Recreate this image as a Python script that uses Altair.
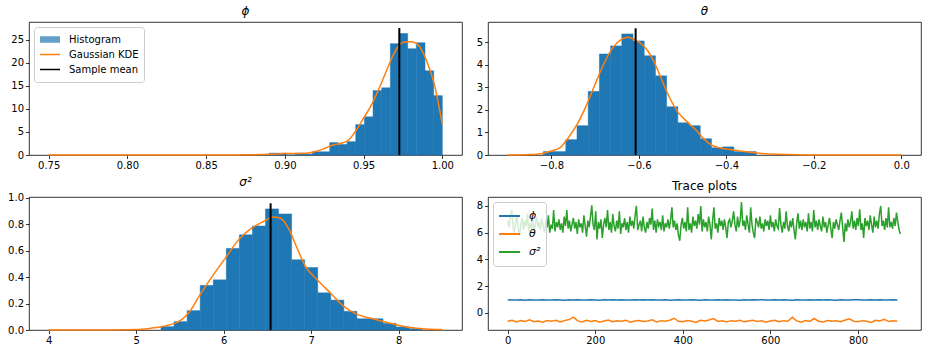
import altair as alt
import pandas as pd

# ---------------- phi ----------------
phi_bin_start = 0.89
phi_bin_width = 0.0055
phi_hist = [0.4, 0.4, 0.0, 0.4, 0.2, 0.7, 0.7, 2.7, 2.3, 2.9,
            6.6, 8.3, 14.0, 14.6, 24.2, 26.4, 23.1, 24.4, 18.3, 12.9]
phi_kde_x = [0.75, 0.80, 0.85, 0.87, 0.88, 0.89, 0.90, 0.91, 0.915, 0.92, 0.925,
             0.93, 0.935, 0.94, 0.945, 0.95, 0.955, 0.96, 0.965, 0.97, 0.975,
             0.98, 0.985, 0.99, 0.995, 1.0]
phi_kde_y = [0.0, 0.0, 0.0, 0.02, 0.06, 0.15, 0.3, 0.35, 0.45, 0.8, 1.4,
             2.1, 2.5, 3.1, 5.2, 8.0, 10.9, 14.6, 18.7, 22.5, 24.5,
             24.6, 23.8, 20.5, 15.3, 6.7]
phi_mean = 0.9727
phi_mean_top = 27.6

# ---------------- theta ----------------
theta_bin_start = -0.8184
theta_bin_width = 0.02562
theta_hist = [0.15, 0.15, 0.68, 1.30, 2.82, 4.48, 4.84, 5.37, 5.06, 4.40,
              3.51, 2.14, 1.43, 1.30, 0.72, 0.32, 0.36, 0.15, 0.15]
theta_kde_x = [-0.90, -0.85, -0.82, -0.80, -0.78, -0.76, -0.74, -0.72, -0.70, -0.68,
               -0.66, -0.64, -0.625, -0.61, -0.59, -0.57, -0.55, -0.53, -0.51, -0.49,
               -0.47, -0.45, -0.43, -0.41, -0.39, -0.37, -0.35, -0.32, -0.28, -0.2, 0.0]
theta_kde_y = [0.0, 0.02, 0.07, 0.18, 0.33, 0.80, 1.40, 2.20, 3.15, 4.05,
               4.75, 5.13, 5.22, 5.12, 4.86, 4.32, 3.45, 2.55, 1.88, 1.48,
               1.12, 0.68, 0.40, 0.30, 0.24, 0.18, 0.13, 0.07, 0.03, 0.0, 0.0]
theta_mean = -0.6075
theta_mean_top = 5.62

# ---------------- sigma^2 ----------------
sig_bin_start = 5.284
sig_bin_width = 0.1493
sig_hist = [0.025, 0.063, 0.146, 0.337, 0.379, 0.616, 0.719, 0.786, 0.915, 0.877,
            0.530, 0.472, 0.281, 0.226, 0.141, 0.085, 0.085, 0.050, 0.023, 0.010]
sig_kde_x = [4.0, 4.5, 5.0, 5.15, 5.3, 5.43, 5.52, 5.6, 5.73, 5.87, 6.02, 6.17, 6.32,
             6.47, 6.56, 6.65, 6.74, 6.84, 6.93, 7.07, 7.22, 7.37, 7.52, 7.67, 7.82,
             7.97, 8.11, 8.27, 8.5]
sig_kde_y = [0.0, 0.0005, 0.004, 0.012, 0.026, 0.048, 0.078, 0.128, 0.266, 0.405, 0.543,
             0.681, 0.769, 0.824, 0.854, 0.844, 0.769, 0.618, 0.487, 0.38, 0.28, 0.18,
             0.12, 0.09, 0.065, 0.04, 0.02, 0.01, 0.004]
sig_mean = 6.537
sig_mean_top = 0.957

# ---------------- trace plots ----------------
sig_trace_step = 3
sig_trace = [
    6.9, 6.4, 7.2, 7.7, 6.5, 6.0, 6.8, 7.3, 6.3, 5.8, 6.6, 7.1, 6.2, 6.9, 6.5, 7.4, 6.1, 6.7, 6.3, 7.0, 5.9, 6.6, 7.2, 6.4, 6.8,
    6.2, 7.1, 6.5, 6.0, 6.9, 6.4, 7.3, 6.0, 6.6, 6.3, 7.7, 6.1, 6.8, 6.4, 7.0, 6.2, 6.7, 6.0, 7.2, 6.5, 7.7, 6.3, 6.9, 6.1, 6.6,
    7.1, 6.3, 6.8, 5.9, 7.0, 6.4, 6.7, 6.0, 7.3, 6.5, 5.7, 6.9, 6.4, 7.2, 8.05, 6.6, 6.2, 7.6, 5.5, 6.8, 6.3, 7.0, 5.6, 6.6, 7.1,
    6.4, 7.7, 6.2, 6.8, 6.0, 7.4, 6.5, 6.1, 6.9, 6.3, 7.6, 5.9, 6.7, 6.4, 7.1, 6.2, 6.8, 6.0, 7.2, 6.5, 6.9, 6.3, 7.3, 8.0, 6.2,
    6.6, 6.9, 6.1, 7.2, 6.4, 6.0, 6.8, 6.3, 7.1, 6.6, 7.8, 6.2, 6.9, 6.0, 7.0, 6.5, 6.8, 6.2, 7.3, 6.1, 6.7, 6.4, 7.0, 6.3, 6.9,
    7.9, 6.4, 6.9, 6.2, 6.7, 5.8, 5.4, 6.6, 7.1, 6.3, 6.8, 6.1, 7.9, 6.2, 6.7, 6.0, 7.2, 6.5, 6.9, 6.3, 7.4, 6.6, 8.0, 6.1, 7.0,
    6.4, 6.8, 6.1, 7.2, 6.6, 5.5, 6.9, 7.9, 6.3, 6.7, 6.0, 7.1, 6.5, 6.9, 6.2, 7.0, 6.4, 5.6, 6.8, 7.0, 6.4, 6.9, 7.6, 6.6, 6.1,
    7.2, 6.4, 6.9, 8.3, 6.5, 6.9, 6.2, 7.3, 6.6, 6.0, 7.9, 6.6, 6.0, 5.6, 7.1, 6.8, 6.4, 7.2, 6.3, 6.7, 6.1, 7.0, 6.5, 6.9, 6.2,
    7.3, 6.4, 6.8, 6.1, 7.0, 6.5, 6.3, 7.85, 6.6, 6.0, 6.8, 6.3, 7.6, 6.5, 6.1, 6.9, 6.4, 7.1, 6.2, 5.5, 6.7, 7.45, 6.3, 6.9, 6.2,
    7.0, 6.4, 6.8, 6.1, 7.45, 6.3, 6.8, 6.1, 7.7, 6.4, 6.9, 6.2, 7.0, 6.5, 6.1, 7.2, 6.4, 6.8, 6.0, 6.6, 7.1, 6.3, 5.6, 6.8, 6.3,
    7.0, 6.6, 6.2, 6.9, 7.5, 6.4, 5.3, 6.7, 6.1, 7.0, 6.4, 6.8, 7.6, 6.3, 6.9, 6.2, 7.1, 6.5, 7.75, 6.2, 6.7, 5.6, 7.1, 6.5, 6.9,
    6.2, 7.3, 6.6, 6.0, 7.2, 6.4, 6.9, 6.3, 7.4, 8.0, 6.5, 6.9, 6.2, 7.1, 6.4, 7.9, 6.4, 6.8, 6.3, 7.1, 6.5, 7.5, 6.8, 6.2, 5.9,
]
pt_trace_step = 10
phi_trace = [
    0.98, 0.96, 0.97, 0.99, 0.95, 0.98, 0.97, 0.96, 0.99, 0.97,
    0.96, 0.98, 0.97, 0.95, 0.98, 0.97, 0.99, 0.96, 0.97, 0.98,
    0.97, 0.95, 0.98, 0.96, 0.99, 0.97, 0.98, 0.96, 0.97, 0.98,
    0.96, 0.98, 0.97, 0.99, 0.96, 0.97, 0.98, 0.95, 0.97, 0.98,
    0.97, 0.96, 0.99, 0.97, 0.94, 0.98, 0.96, 0.97, 0.99, 0.97,
    0.98, 0.96, 0.97, 0.95, 0.98, 0.97, 0.99, 0.96, 0.98, 0.97,
    0.97, 0.98, 0.96, 0.99, 0.97, 0.95, 0.98, 0.97, 0.96, 0.98,
    0.97, 0.99, 0.96, 0.98, 0.97, 0.95, 0.98, 0.97, 0.96, 0.99,
    0.98, 0.97, 0.96, 0.98, 0.97, 0.99, 0.96, 0.97, 0.98, 0.97,
]
theta_trace = [
    -0.62, -0.55, -0.68, -0.58, -0.64, -0.52, -0.66, -0.60, -0.70, -0.57,
    -0.63, -0.55, -0.67, -0.58, -0.50, -0.32, -0.60, -0.68, -0.56, -0.64,
    -0.58, -0.70, -0.61, -0.54, -0.66, -0.59, -0.63, -0.55, -0.69, -0.60,
    -0.57, -0.65, -0.60, -0.52, -0.68, -0.58, -0.62, -0.55, -0.40, -0.63,
    -0.66, -0.57, -0.62, -0.72, -0.56, -0.61, -0.53, -0.42, -0.64, -0.59,
    -0.68, -0.58, -0.63, -0.55, -0.67, -0.60, -0.56, -0.65, -0.59, -0.70,
    -0.61, -0.56, -0.66, -0.58, -0.63, -0.32, -0.60, -0.70, -0.57, -0.64,
    -0.42, -0.62, -0.68, -0.57, -0.63, -0.59, -0.66, -0.55, -0.44, -0.62,
    -0.67, -0.58, -0.63, -0.72, -0.56, -0.61, -0.48, -0.65, -0.59, -0.62,
]
trace_names = ["ϕ", "θ", "σ²"]
trace_colors = ["#1f77b4", "#ff7f0e", "#2ca02c"]

hist_names = ["Histogram", "Gaussian KDE", "Sample mean"]
BLUE, ORANGE, BLACK = "#1f77b4", "#ff7f0e", "#000000"

W, H = 433, 133
FONT = "DejaVu Sans"


def hist_df(start, width, heights):
    n = len(heights)
    return pd.DataFrame({
        "lo": [start + i * width for i in range(n)],
        "hi": [start + (i + 1) * width for i in range(n)],
        "h": heights,
    })


legend1 = alt.Legend(
    title=None, orient="top-left", offset=5, padding=5,
    fillColor="rgba(255,255,255,0.8)", strokeColor="#cccccc", cornerRadius=3,
    symbolSize=400, symbolStrokeWidth=1.6, symbolOpacity=1,
    clipHeight=15, rowPadding=0, labelFont=FONT, labelFontSize=10,
    labelColor="black", labelOffset=8)


def panel(hist, kde_x, kde_y, mean, mean_top, xdom, ydom, xticks, yticks, xfmt, yfmt, title, with_legend):
    xs = alt.Scale(domain=xdom, nice=False, zero=False)
    ys = alt.Scale(domain=ydom, nice=False, zero=False)
    xa = alt.Axis(values=xticks, format=xfmt, title=None)
    ya = alt.Axis(values=yticks, format=yfmt, title=None)
    kde = pd.DataFrame({"x": kde_x, "y": kde_y})
    mdf = pd.DataFrame({"x": [mean], "y0": [0.0], "y1": [mean_top]})
    bars = alt.Chart(hist).mark_rect(color=BLUE, stroke=BLUE, strokeWidth=0.5).encode(
        x=alt.X("lo:Q", scale=xs, axis=xa), x2="hi:Q",
        y=alt.Y("h:Q", scale=ys, axis=ya), y2=alt.datum(0))
    line = alt.Chart(kde).mark_line(strokeWidth=1.5, interpolate="monotone", color=ORANGE).encode(
        x=alt.X("x:Q", scale=xs, axis=xa), y=alt.Y("y:Q", scale=ys, axis=ya))
    rule = alt.Chart(mdf).mark_rule(strokeWidth=2, color=BLACK).encode(
        x=alt.X("x:Q", scale=xs, axis=xa), y=alt.Y("y0:Q", scale=ys, axis=ya), y2="y1:Q")
    layers = [bars, line, rule]
    if with_legend:
        # legend-only layer (points lie outside the plot and are clipped)
        ldf = pd.DataFrame({"series": hist_names, "x": [xdom[0] - 1] * 3, "y": [ydom[0] - 1] * 3})
        key = alt.Chart(ldf).mark_point(size=400, clip=True, strokeWidth=1.6).encode(
            x=alt.X("x:Q", scale=xs, axis=xa), y=alt.Y("y:Q", scale=ys, axis=ya),
            fill=alt.Fill("series:N", scale=alt.Scale(domain=hist_names,
                          range=["rgba(31,119,180,0.7)", "transparent", "transparent"]), legend=legend1),
            stroke=alt.Stroke("series:N", scale=alt.Scale(domain=hist_names,
                              range=["transparent", ORANGE, BLACK]), legend=legend1),
            shape=alt.Shape("series:N", scale=alt.Scale(domain=hist_names,
                            range=["M-1,-0.33H1V0.33H-1Z", "M-1,0H1", "M-1,0H1"]), legend=legend1),
        )
        layers.append(key)
    return alt.layer(*layers).properties(
        width=W, height=H,
        title=alt.TitleParams(text=title, fontStyle="italic"))


p1 = panel(hist_df(phi_bin_start, phi_bin_width, phi_hist), phi_kde_x, phi_kde_y,
           phi_mean, phi_mean_top, [0.7375, 1.0125], [0, 28.9],
           [0.75, 0.80, 0.85, 0.90, 0.95, 1.00], [0, 5, 10, 15, 20, 25], ".2f", "d", "ϕ", True)
p2 = panel(hist_df(theta_bin_start, theta_bin_width, theta_hist), theta_kde_x, theta_kde_y,
           theta_mean, theta_mean_top, [-0.945, 0.045], [0, 5.9],
           [-0.8, -0.6, -0.4, -0.2, 0.0], [0, 1, 2, 3, 4, 5], ".1f", "d", "θ", False)
p3 = panel(hist_df(sig_bin_start, sig_bin_width, sig_hist), sig_kde_x, sig_kde_y,
           sig_mean, sig_mean_top, [3.775, 8.725], [0, 1.005],
           [4, 5, 6, 7, 8], [0.0, 0.2, 0.4, 0.6, 0.8, 1.0], "d", ".1f", "σ²", False)

rows = []
for i, v in enumerate(phi_trace):
    rows.append({"iter": i * pt_trace_step, "value": v, "param": trace_names[0]})
for i, v in enumerate(theta_trace):
    rows.append({"iter": i * pt_trace_step, "value": v, "param": trace_names[1]})
for i, v in enumerate(sig_trace):
    rows.append({"iter": i * sig_trace_step, "value": v, "param": trace_names[2]})
trace = pd.DataFrame(rows)

legend4 = alt.Legend(
    title=None, orient="top-left", offset=5, padding=5,
    fillColor="rgba(255,255,255,0.8)", strokeColor="#cccccc", cornerRadius=3,
    symbolType="stroke", symbolSize=441, symbolStrokeWidth=2,
    clipHeight=18, rowPadding=0, labelFont=FONT, labelFontSize=11,
    labelFontStyle="italic", labelColor="black", labelOffset=8)

p4 = alt.Chart(trace).mark_line(strokeWidth=1.5).encode(
    x=alt.X("iter:Q", scale=alt.Scale(domain=[-45, 944], nice=False, zero=False),
            axis=alt.Axis(values=[0, 200, 400, 600, 800], format="d", title=None)),
    y=alt.Y("value:Q", scale=alt.Scale(domain=[-1.28, 8.67], nice=False, zero=False),
            axis=alt.Axis(values=[0, 2, 4, 6, 8], format="d", title=None)),
    color=alt.Color("param:N", scale=alt.Scale(domain=trace_names, range=trace_colors),
                    sort=trace_names, legend=legend4),
).properties(width=W, height=H, title=alt.TitleParams(text="Trace plots", fontStyle="normal"))

chart = alt.concat(
    p1, p2, p3, p4, columns=2,
    spacing={"row": 42, "column": 26}, bounds="flush",
).resolve_scale(
    color="independent", fill="independent", stroke="independent", shape="independent"
).resolve_legend(
    color="independent", fill="independent", stroke="independent", shape="independent"
).properties(
    padding={"left": 7, "top": 4, "right": 4, "bottom": 4}
).configure_view(
    stroke="black", strokeWidth=0.8
).configure_axis(
    domain=False, grid=False, tickColor="black", tickSize=3.5, tickWidth=0.8,
    labelColor="black", labelFont=FONT, labelFontSize=10, labelPadding=2
).configure_title(
    font=FONT, fontSize=12, fontWeight="normal", color="black", offset=4
)

chart.save("out.html", embed_options={"renderer": "svg", "actions": False})
